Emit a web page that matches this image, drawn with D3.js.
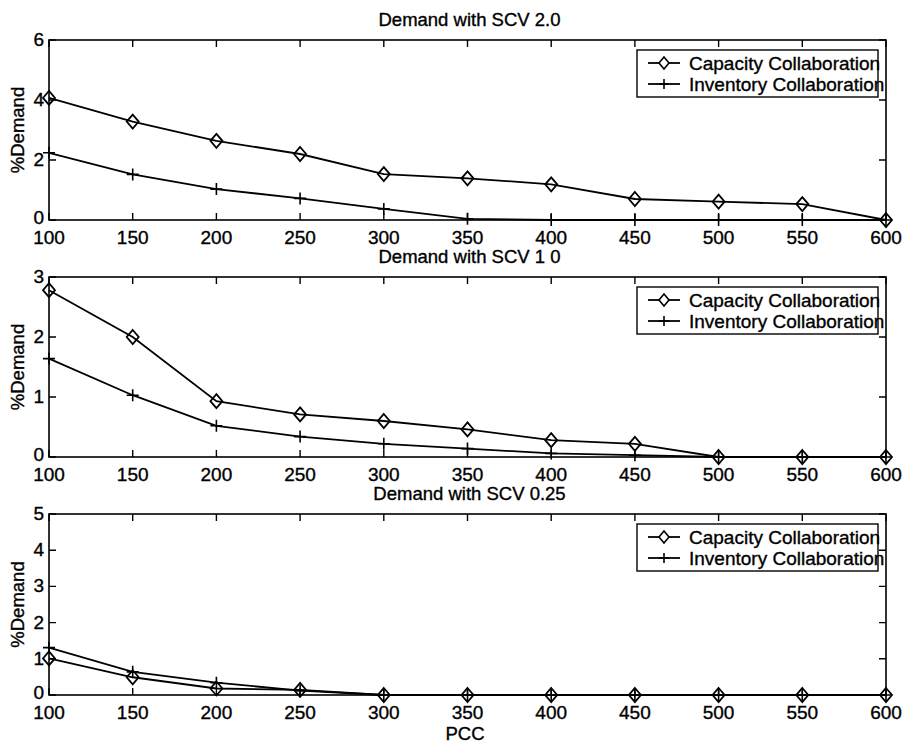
<!DOCTYPE html>
<html>
<head>
<meta charset="utf-8">
<script src="https://cdn.jsdelivr.net/npm/d3@7"></script>
<style>
	body { margin: 0; background: #fff; }
	text { font-family: "Liberation Sans", Arial, Helvetica, sans-serif; fill: #000; stroke: #000; stroke-width: 0.35px; }
</style>
</head>
<body>
<svg width="904" height="743"></svg>
<script>

// PCC values on the x axis
var pcc = [100, 150, 200, 250, 300, 350, 400, 450, 500, 550, 600];

// SCV 2.0
var capacity20 = [4.07, 3.28, 2.64, 2.2, 1.53, 1.39, 1.19, 0.7, 0.61, 0.53, 0];
var inventory20 = [2.24, 1.52, 1.03, 0.72, 0.37, 0.04, 0, 0, 0, 0, 0];

// SCV 1.0
var capacity10 = [2.78, 2.0, 0.93, 0.71, 0.6, 0.46, 0.28, 0.22, 0, 0, 0];
var inventory10 = [1.64, 1.03, 0.52, 0.34, 0.22, 0.14, 0.06, 0.03, 0, 0, 0];

// SCV 0.25
var capacity025 = [1.01, 0.49, 0.18, 0.14, 0, 0, 0, 0, 0, 0, 0];
var inventory025 = [1.31, 0.64, 0.34, 0.12, 0, 0, 0, 0, 0, 0, 0];

var titles = ["Demand with SCV 2.0", "Demand with SCV 1 0", "Demand with SCV 0.25"];
var yMaxes = [6, 3, 5];
var yTickLists = [[0, 2, 4, 6], [0, 1, 2, 3], [0, 1, 2, 3, 4, 5]];
var seriesNames = ["Capacity Collaboration", "Inventory Collaboration"];

var svg = d3.select("svg");

// panel placement
var left = 49, right = 886;
var panels = [
	{ top: 40, bottom: 220, cap: capacity20, inv: inventory20 },
	{ top: 277, bottom: 457, cap: capacity10, inv: inventory10 },
	{ top: 514, bottom: 695, cap: capacity025, inv: inventory025 }
];

var diamond = "M0,-7L6,0L0,7L-6,0Z";
var plus = "M-6,0H6M0,-6V6";
var tickLen = 7;

function drawPanel(i) {
	var p = panels[i];

	var x = d3.scaleLinear().domain([100, 600]).range([left, right]);
	var y = d3.scaleLinear().domain([0, yMaxes[i]]).range([p.bottom, p.top]);

	var g = svg.append("g").attr("class", "panel");

	// title
	g.append("text")
		.attr("x", (left + right) / 2 + 2)
		.attr("y", p.top - 14)
		.attr("text-anchor", "middle")
		.style("font-size", "18.5px")
		.text(titles[i]);

	// box
	g.append("rect")
		.attr("x", left)
		.attr("y", p.top)
		.attr("width", right - left)
		.attr("height", p.bottom - p.top)
		.attr("fill", "none")
		.attr("stroke", "#000")
		.attr("stroke-width", 1.6);

	// inward ticks, bottom and top
	g.selectAll(".xt")
		.data(pcc)
		.enter().append("path")
		.attr("d", function (d) {
			return "M" + x(d) + "," + p.bottom + "v" + (-tickLen) +
				"M" + x(d) + "," + p.top + "v" + tickLen;
		})
		.attr("stroke", "#000")
		.attr("stroke-width", 1.4);

	// inward ticks, left and right
	g.selectAll(".yt")
		.data(yTickLists[i])
		.enter().append("path")
		.attr("d", function (d) {
			return "M" + left + "," + y(d) + "h" + tickLen +
				"M" + right + "," + y(d) + "h" + (-tickLen);
		})
		.attr("stroke", "#000")
		.attr("stroke-width", 1.4);

	// tick labels
	g.selectAll(".xl")
		.data(pcc)
		.enter().append("text")
		.attr("x", function (d) { return x(d); })
		.attr("y", p.bottom + 24)
		.attr("text-anchor", "middle")
		.style("font-size", "19px")
		.text(function (d) { return d; });

	g.selectAll(".yl")
		.data(yTickLists[i])
		.enter().append("text")
		.attr("x", left - 5)
		.attr("y", function (d) { return y(d) + (d == 0 ? 4 : 6); })
		.attr("text-anchor", "end")
		.style("font-size", "19px")
		.text(function (d) { return d; });

	// y label
	g.append("text")
		.attr("transform", "translate(24," + ((p.top + p.bottom) / 2) + ") rotate(-90)")
		.attr("text-anchor", "middle")
		.style("font-size", "18.5px")
		.text("%Demand");

	var line = d3.line()
		.x(function (d, j) { return x(pcc[j]); })
		.y(function (d) { return y(d); });

	g.append("path")
		.datum(p.cap)
		.attr("d", line)
		.attr("fill", "none")
		.attr("stroke", "#000")
		.attr("stroke-width", 1.8);

	g.append("path")
		.datum(p.inv)
		.attr("d", line)
		.attr("fill", "none")
		.attr("stroke", "#000")
		.attr("stroke-width", 1.8);

	g.selectAll(".dm")
		.data(p.cap)
		.enter().append("path")
		.attr("transform", function (d, j) { return "translate(" + x(pcc[j]) + "," + y(d) + ")"; })
		.attr("d", diamond)
		.attr("fill", "none")
		.attr("stroke", "#000")
		.attr("stroke-width", 1.8);

	g.selectAll(".pl")
		.data(p.inv)
		.enter().append("path")
		.attr("transform", function (d, j) { return "translate(" + x(pcc[j]) + "," + y(d) + ")"; })
		.attr("d", plus)
		.attr("fill", "none")
		.attr("stroke", "#000")
		.attr("stroke-width", 1.6);

	// legend, text runs up to the box edge like the original
	var lx = 637, ly = p.top + 10;
	var lg = g.append("g").attr("transform", "translate(" + lx + "," + ly + ")");

	lg.append("rect")
		.attr("width", 241)
		.attr("height", 47)
		.attr("fill", "#fff");

	seriesNames.forEach(function (name, k) {
		var ry = 13 + k * 21;
		lg.append("path")
			.attr("d", "M11," + ry + "H43")
			.attr("stroke", "#000")
			.attr("stroke-width", 1.8);
		lg.append("path")
			.attr("transform", "translate(27," + ry + ")")
			.attr("d", k == 0 ? "M0,-6L5,0L0,6L-5,0Z" : "M-5,0H5M0,-5V5")
			.attr("fill", "#fff")
			.attr("stroke", "#000")
			.attr("stroke-width", 1.6);
		lg.append("text")
			.attr("x", 52)
			.attr("y", ry + 6.5)
			.style("font-size", "19px")
			.text(name);
	});

	lg.append("rect")
		.attr("width", 241)
		.attr("height", 47)
		.attr("fill", "none")
		.attr("stroke", "#000")
		.attr("stroke-width", 1.4);
}

for (var i = 0; i < panels.length; i++) {
	drawPanel(i);
}

// x label
svg.append("text")
	.attr("x", 465)
	.attr("y", 740)
	.attr("text-anchor", "middle")
	.style("font-size", "18.5px")
	.text("PCC");

</script>
</body>
</html>
